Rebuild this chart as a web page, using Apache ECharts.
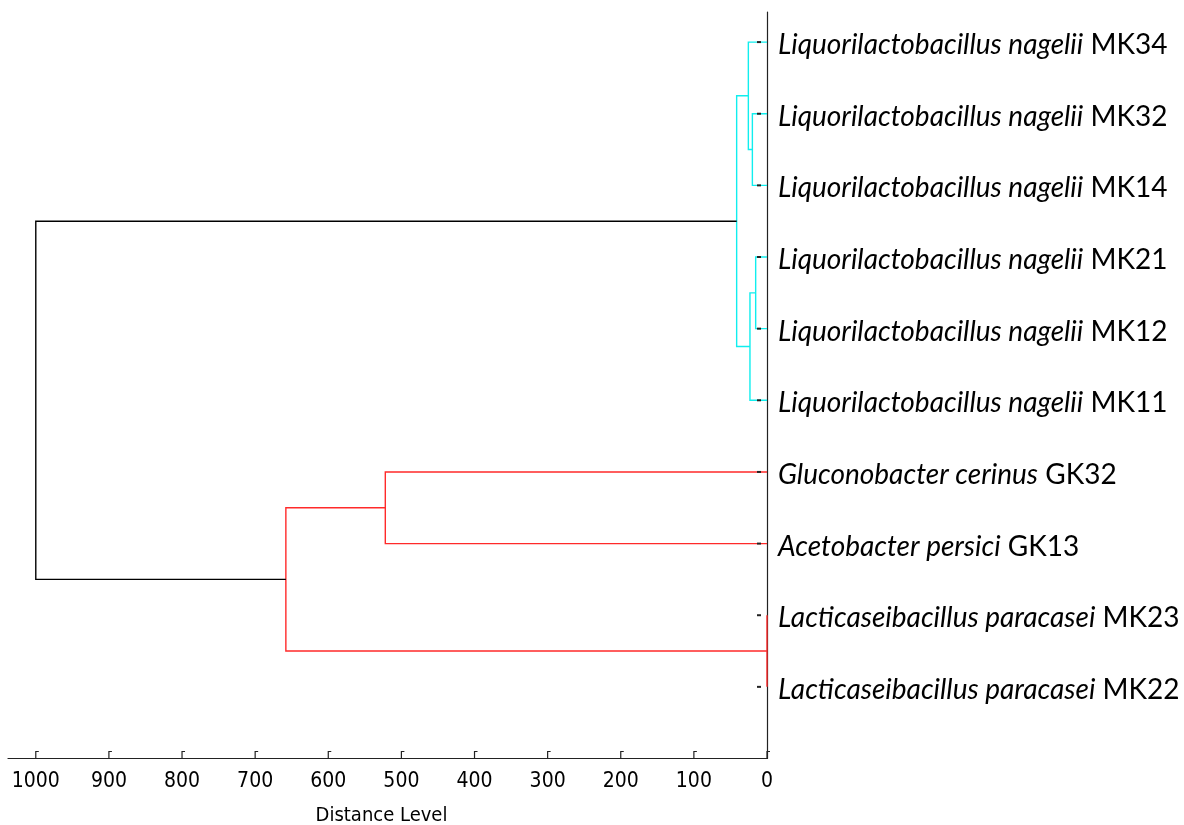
<!DOCTYPE html>
<html><head><meta charset="utf-8">
<script src="https://cdn.jsdelivr.net/npm/echarts@6/dist/echarts.min.js"></script>
<style>html,body{margin:0;padding:0;background:#fff}#c{width:1184px;height:825px}</style>
</head><body><div id="c"></div>
<script>
// Leaves, top to bottom
const species = ['Liquorilactobacillus nagelii','Liquorilactobacillus nagelii','Liquorilactobacillus nagelii',
  'Liquorilactobacillus nagelii','Liquorilactobacillus nagelii','Liquorilactobacillus nagelii',
  'Gluconobacter cerinus','Acetobacter persici','Lacticaseibacillus paracasei','Lacticaseibacillus paracasei'];
const strains = ['MK34','MK32','MK14','MK21','MK12','MK11','GK32','GK13','MK23','MK22'];
// Merges (node k gets id 'n'+(k+1))
const mergeLeft   = ['MK32','MK34','MK21','n3','n2','GK32','MK23','n6','n5'];
const mergeRight  = ['MK14','n1','MK12','MK11','n4','GK13','MK22','n7','n8'];
const mergeHeight = [20, 25.5, 15.5, 23.3, 41.5, 522, 0, 658, 1000];
const mergeGroup  = [0, 0, 0, 0, 0, 1, 1, 1, 2];
const distanceTicks = [0,100,200,300,400,500,600,700,800,900,1000];
const axisName = 'Distance Level';

const groupColours = ['#10eeee', '#ff2a2a', '#000000'];
const n = strains.length;
const pos = {}, hgt = {};
strains.forEach((s,i)=>{ pos[s] = n - i; hgt[s] = 0; });
const segData = [];
mergeLeft.forEach((l,k)=>{
  const r = mergeRight[k], id = 'n'+(k+1);
  pos[id] = (pos[l] + pos[r]) / 2; hgt[id] = mergeHeight[k];
  segData.push([hgt[l], pos[l], mergeHeight[k], pos[r], hgt[r], mergeGroup[k]]);
});
const leafData = strains.map(s => [0, pos[s]]);
const tickData = distanceTicks.map(v => [v, 0]);

const labelFont = 'Lato, "Open Sans", sans-serif';
const axisFont = '"Liberation Sans Narrow", "DejaVu Sans Condensed", "Liberation Sans", sans-serif';

const chart = echarts.init(document.getElementById('c'), null, {renderer:'canvas'});
chart.setOption({
  animation: false,
  backgroundColor: '#fff',
  grid: {left: 8, right: 417, top: 12, bottom: 66.5, containLabel: false, outerBoundsMode: 'none'},
  xAxis: {
    type: 'value', inverse: true, min: 0, max: 1038, interval: 100,
    axisLine: {lineStyle: {color: '#222', width: 1.2}},
    axisTick: {show: false}, splitLine: {show: false},
    axisLabel: {formatter: v => distanceTicks.includes(v) ? String(v) : '',
      fontFamily: axisFont, fontSize: 21, color: '#000', margin: 13},
    name: axisName, nameLocation: 'middle', nameGap: 47,
    nameTextStyle: {fontFamily: axisFont, fontSize: 20, color: '#000', padding: [0, 12, 0, 0]}
  },
  yAxis: {
    type: 'value', position: 'right', min: 0, max: 10.42, interval: 1,
    axisLine: {show: true, onZero: false, lineStyle: {color: '#222', width: 1.2}},
    axisTick: {show: false}, splitLine: {show: false},
    axisLabel: {
      margin: 11, color: '#000', fontFamily: labelFont, fontSize: 28,
      formatter: v => {
        if (!Number.isInteger(v) || v < 1 || v > n) return '';
        const i = n - v;
        return '{i|' + species[i] + '} {s|' + strains[i] + '}';
      },
      rich: {
        i: {fontStyle: 'italic', fontFamily: labelFont, fontSize: 28, color: '#000', padding: [6,0,0,0]},
        s: {fontFamily: labelFont, fontSize: 28, color: '#000', padding: [6,0,0,0]}
      }
    }
  },
  series: [
    {
      type: 'custom', z: 5, clip: false, data: segData,
      encode: {x: [0,2,4], y: [1,3]},
      renderItem: (params, api) => {
        const a = api.coord([api.value(0), api.value(1)]);
        const b = api.coord([api.value(2), api.value(1)]);
        const c = api.coord([api.value(2), api.value(3)]);
        const d = api.coord([api.value(4), api.value(3)]);
        return {type: 'polyline', shape: {points: [a,b,c,d]},
          style: {stroke: groupColours[api.value(5)], lineWidth: 1.4, fill: null}};
      }
    },
    {
      type: 'custom', z: 6, clip: false, data: leafData,
      encode: {x: 0, y: 1},
      renderItem: (params, api) => {
        const p = api.coord([api.value(0), api.value(1)]);
        return {type: 'line', shape: {x1: p[0]-10, y1: p[1], x2: p[0]-6, y2: p[1]},
          style: {stroke: '#222', lineWidth: 2}};
      }
    },
    {
      type: 'custom', z: 6, clip: false, data: tickData,
      encode: {x: 0, y: 1},
      renderItem: (params, api) => {
        const p = api.coord([api.value(0), api.value(1)]);
        return {type: 'polyline', shape: {points: [[p[0], p[1]], [p[0], p[1]-7], [p[0]+3, p[1]-7]]},
          style: {stroke: '#222', lineWidth: 1.2, fill: null}};
      }
    }
  ]
});
</script></body></html>
